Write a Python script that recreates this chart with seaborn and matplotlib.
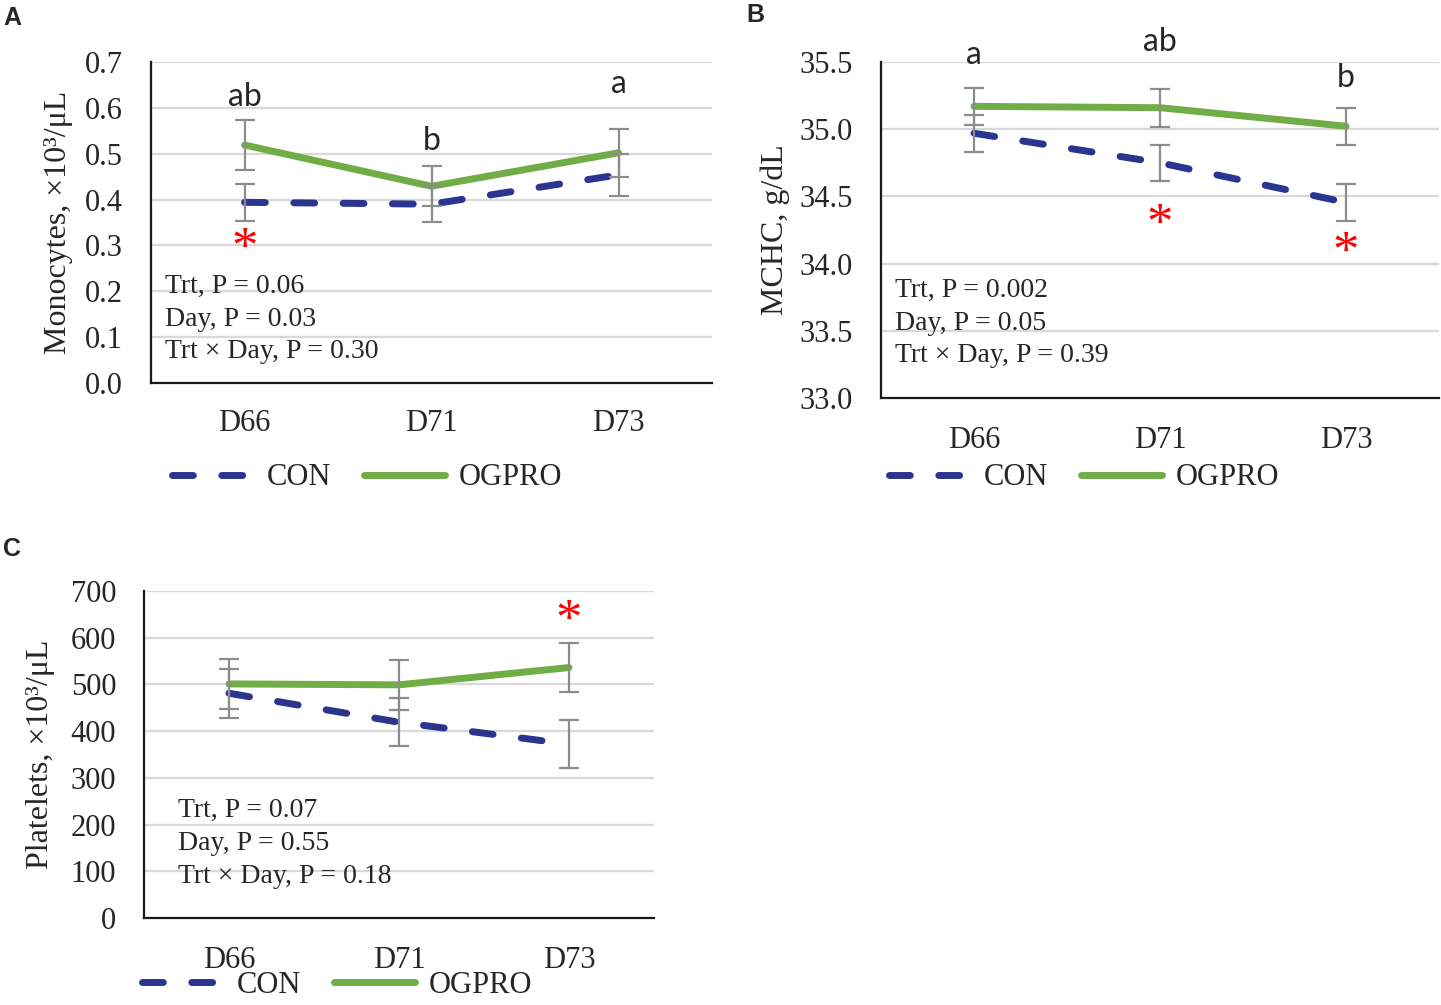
import matplotlib
matplotlib.use("Agg")
import matplotlib.pyplot as plt
from matplotlib.lines import Line2D
import pandas as pd
import seaborn as sns

days = ["D66", "D71", "D73"]
groups = ["CON", "OGPRO"]

mono_con = [0.394, 0.390, 0.454]
mono_con_se = [0.040, 0.039, 0.046]
mono_og = [0.519, 0.429, 0.502]
mono_og_se = [0.054, 0.044, 0.053]
mono_letters = ["ab", "b", "a"]
mono_stats = ["Trt, P = 0.06", "Day, P = 0.03", "Trt × Day, P = 0.30"]

mchc_con = [34.97, 34.75, 34.455]
mchc_con_se = [0.137, 0.136, 0.137]
mchc_og = [35.17, 35.16, 35.022]
mchc_og_se = [0.137, 0.14, 0.137]
mchc_letters = ["a", "ab", "b"]
mchc_stats = ["Trt, P = 0.002", "Day, P = 0.05", "Trt × Day, P = 0.39"]

plt_con = [481, 419, 372]
plt_con_se = [52, 51, 52]
plt_og = [501, 499, 536]
plt_og_se = [53, 53, 52]
plt_stats = ["Trt, P = 0.07", "Day, P = 0.55", "Trt × Day, P = 0.18"]

COLORS = {"CON": "#2B3590", "OGPRO": "#70AD47"}
ERR = "#8C8C8C"
SERIF = ["Liberation Serif", "DejaVu Serif"]

sns.set_style("white")
plt.rcParams["font.family"] = SERIF


def draw_panel(ax, con, con_se, og, og_se, ylim, ystep, ylabel, fmt, stats,
               letters=None, letter_y=None, star_idx=None, star_y=None,
               xpad=16, ylab_x=-0.14, stats_x=0.025, stats_y=(0.31, 0.21, 0.11)):
    df = pd.DataFrame({
        "day": days * 2,
        "group": ["CON"] * 3 + ["OGPRO"] * 3,
        "value": con + og,
    })
    sns.lineplot(data=df, x="day", y="value", hue="group", style="group",
                 palette=COLORS, dashes={"CON": (3, 4.1), "OGPRO": ""},
                 linewidth=5, legend=False, sort=False, ax=ax, zorder=2)
    for ln in ax.get_lines():
        ln.set_dash_capstyle("round")
        ln.set_solid_capstyle("round")
    for vals, se in ((con, con_se), (og, og_se)):
        ax.errorbar(days, vals, yerr=se, fmt="none", ecolor=ERR,
                    elinewidth=1.6, capsize=7, capthick=1.6, zorder=3)

    ax.set_xlim(-0.5, 2.5)
    ax.set_ylim(*ylim)
    ticks = [ylim[0] + i * ystep for i in range(int(round((ylim[1] - ylim[0]) / ystep)) + 1)]
    ax.set_yticks(ticks)
    ax.set_yticklabels([fmt.format(t) for t in ticks])
    ax.grid(axis="y", color="#D9D9D9", linewidth=1.6, zorder=0)
    ax.set_axisbelow(True)
    for s in ("top", "right"):
        ax.spines[s].set_visible(False)
    for s in ("left", "bottom"):
        ax.spines[s].set_color("#1a1a1a")
        ax.spines[s].set_linewidth(1.6)
    ax.tick_params(axis="y", length=0, pad=20, labelsize=22)
    ax.tick_params(axis="x", length=0, pad=xpad, labelsize=22)
    ax.set_xlabel("")
    ax.set_ylabel(ylabel, fontsize=23)
    ax.yaxis.set_label_coords(ylab_x, 0.5)

    for txt, yy in zip(stats, stats_y):
        ax.text(stats_x, yy, txt, transform=ax.transAxes, fontsize=20,
                va="center", ha="left")
    if letters:
        for d, lt, yy in zip(days, letters, letter_y):
            ax.text(d, yy, lt, fontsize=23, family=["Lato", "DejaVu Sans"],
                    ha="center", va="center", clip_on=False)
    if star_idx is not None:
        for i, yy in zip(star_idx, star_y):
            ax.text(days[i], yy, "*", fontsize=38, color="red",
                    ha="center", va="center", clip_on=False)


def add_legend(fig, x, y):
    handles = [
        Line2D([], [], color=COLORS["CON"], linewidth=5, dashes=(3, 4.1),
               dash_capstyle="round"),
        Line2D([], [], color=COLORS["OGPRO"], linewidth=5,
               solid_capstyle="round"),
    ]
    fig.legend(handles, groups, loc="center", bbox_to_anchor=(x, y), ncol=2,
               frameon=False, fontsize=22, handlelength=2.65,
               handletextpad=0.45, columnspacing=1.1)


fig = plt.figure(figsize=(14.41, 10.05), dpi=100)
ax_a = fig.add_axes([0.1048, 0.6189, 0.3893, 0.3194])
ax_b = fig.add_axes([0.6114, 0.6040, 0.3872, 0.3343])
ax_c = fig.add_axes([0.0999, 0.0866, 0.3539, 0.3254])

draw_panel(ax_a, mono_con, mono_con_se, mono_og, mono_og_se, (0.0, 0.7), 0.1,
           "Monocytes, ×10³/μL", "{:.1f}", mono_stats,
           letters=mono_letters, letter_y=[0.624, 0.528, 0.652],
           star_idx=[0], star_y=[0.29], xpad=19, ylab_x=-0.139,
           stats_y=(0.300, 0.197, 0.098))
draw_panel(ax_b, mchc_con, mchc_con_se, mchc_og, mchc_og_se, (33.0, 35.5), 0.5,
           "MCHC, g/dL", "{:.1f}", mchc_stats,
           letters=mchc_letters, letter_y=[35.55, 35.65, 35.38],
           star_idx=[1, 2], star_y=[34.28, 34.07], xpad=20, ylab_x=-0.163,
           stats_y=(0.321, 0.223, 0.126))
draw_panel(ax_c, plt_con, plt_con_se, plt_og, plt_og_se, (0, 700), 100,
           "Platelets, ×10³/μL", "{:.0f}", plt_stats,
           star_idx=[2], star_y=[634], xpad=20, ylab_x=-0.175,
           stats_x=0.067, stats_y=(0.330, 0.229, 0.128))

add_legend(fig, 0.2547, 0.5244)
add_legend(fig, 0.7523, 0.5244)
add_legend(fig, 0.2339, 0.0199)

for lbl, x, y in (("A", 0.002, 0.982), ("B", 0.518, 0.985), ("C", 0.002, 0.454)):
    fig.text(x, y, lbl, fontsize=18, fontweight="bold",
             family=["Liberation Sans", "DejaVu Sans"], va="center", ha="left")

fig.savefig("out.png", dpi=100)
